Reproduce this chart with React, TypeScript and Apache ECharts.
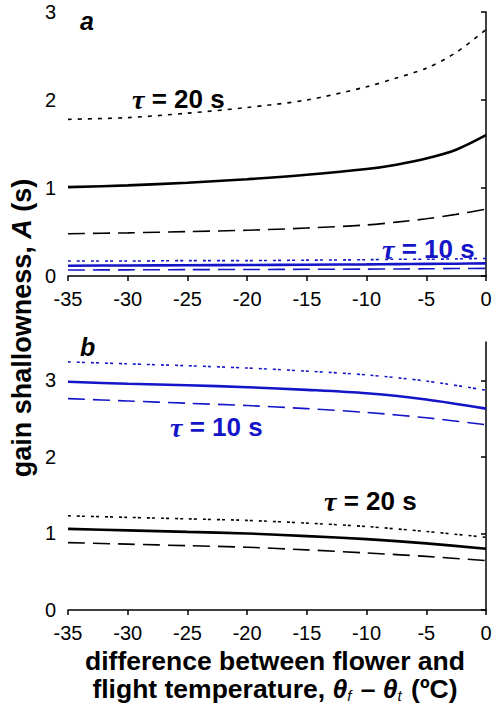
import React, { useEffect, useRef } from "react";
import * as echarts from "echarts";

// ---- Data ----
const xTicks = [-35, -30, -25, -20, -15, -10, -5, 0];
const yTicksA = [0, 1, 2, 3];
const yTicksB = [0, 1, 2, 3];

// Panel a
const xA = [-35, -30, -25, -20, -15, -10, -7.5, -5, -2.5, 0];
const aTau20Dotted = [1.78, 1.8, 1.85, 1.915, 2.0, 2.15, 2.25, 2.36, 2.54, 2.8];
const aTau20Solid = [1.01, 1.03, 1.06, 1.1, 1.15, 1.215, 1.265, 1.335, 1.435, 1.6];
const aTau20Dashed = [0.48, 0.49, 0.505, 0.52, 0.545, 0.58, 0.612, 0.65, 0.7, 0.76];
const aTau10Dotted = [0.17, 0.17, 0.175, 0.175, 0.18, 0.185, 0.19, 0.19, 0.195, 0.2];
const aTau10Solid = [0.117, 0.12, 0.122, 0.125, 0.128, 0.132, 0.135, 0.138, 0.14, 0.144];
const aTau10Dashed = [0.068, 0.07, 0.072, 0.074, 0.076, 0.078, 0.08, 0.082, 0.085, 0.087];

// Panel b
const xB = [-35, -30, -25, -20, -15, -10, -5, 0];
const bTau10Dotted = [3.24, 3.215, 3.19, 3.16, 3.12, 3.07, 2.99, 2.87];
const bTau10Solid = [2.98, 2.955, 2.935, 2.91, 2.875, 2.83, 2.75, 2.63];
const bTau10Dashed = [2.76, 2.73, 2.7, 2.67, 2.63, 2.58, 2.51, 2.42];
const bTau20Dotted = [1.23, 1.21, 1.19, 1.17, 1.135, 1.09, 1.025, 0.95];
const bTau20Solid = [1.06, 1.04, 1.02, 1.0, 0.965, 0.925, 0.87, 0.8];
const bTau20Dashed = [0.88, 0.86, 0.84, 0.82, 0.785, 0.745, 0.7, 0.645];

const BLACK = "#000000";
const BLUE = "#1414c8";
const SANS = "Liberation Sans, Arial, sans-serif";
const SERIF = "Liberation Serif, Times New Roman, serif";

const DOTS = [4, 6];
const DASHDOTS = [3, 6, 3, 2];
const DASHES = [17, 8];

function mk(xs: number[], ys: number[], idx: number, color: string, width: number, type: any) {
  return {
    type: "line",
    xAxisIndex: idx,
    yAxisIndex: idx,
    data: xs.map((x, i) => [x, ys[i]]),
    smooth: 0.3,
    symbol: "none",
    showSymbol: false,
    silent: true,
    lineStyle: { color, width, type },
  };
}

export default function App() {
  const ref = useRef<HTMLDivElement>(null);
  useEffect(() => {
    if (!ref.current) return;
    const chart = echarts.init(ref.current, null, { renderer: "svg" });

    const xAxisBase = (gridIndex: number) => ({
      type: "value",
      gridIndex,
      min: -35,
      max: 0,
      interval: 5,
      axisLine: { show: true, lineStyle: { color: BLACK, width: 1.5 } },
      axisTick: { show: true, inside: false, length: 5, lineStyle: { color: BLACK, width: 1.5 }, customValues: xTicks },
      axisLabel: { color: BLACK, fontSize: 20, fontFamily: SANS, margin: 13, customValues: xTicks },
      splitLine: { show: false },
    });

    const yAxisBase = (gridIndex: number, max: number, ticks: number[]) => ({
      type: "value",
      gridIndex,
      min: 0,
      max,
      interval: 1,
      axisLine: { show: true, lineStyle: { color: BLACK, width: 1.5 } },
      axisTick: { show: true, inside: false, length: 5, lineStyle: { color: BLACK, width: 1.5 }, customValues: ticks },
      axisLabel: { color: BLACK, fontSize: 20, fontFamily: SANS, margin: 12, customValues: ticks },
      splitLine: { show: false },
    });

    const tau = (label: string, color: string) => ({
      text: `{t|τ}{n| = ${label}}`,
      rich: {
        t: { fontFamily: SERIF, fontStyle: "italic", fontWeight: "bold", fontSize: 28, fill: color },
        n: { fontFamily: SANS, fontWeight: "bold", fontSize: 26, fill: color },
      },
      fill: color,
      align: "left",
      verticalAlign: "middle",
    });

    chart.setOption({
      animation: false,
      backgroundColor: "#ffffff",
      grid: [
        { left: 68, top: 12, width: 418, height: 264 },
        { left: 68, top: 342, width: 418, height: 268 },
      ],
      xAxis: [xAxisBase(0), xAxisBase(1)],
      yAxis: [yAxisBase(0, 3, yTicksA), yAxisBase(1, 3.5, yTicksB)],
      series: [
        mk(xA, aTau20Dotted, 0, BLACK, 1.6, DOTS),
        mk(xA, aTau20Solid, 0, BLACK, 2.6, "solid"),
        mk(xA, aTau20Dashed, 0, BLACK, 1.6, DASHES),
        mk(xA, aTau10Dotted, 0, BLUE, 1.6, DASHDOTS),
        mk(xA, aTau10Solid, 0, BLUE, 2.6, "solid"),
        mk(xA, aTau10Dashed, 0, BLUE, 1.6, DASHES),
        mk(xB, bTau10Dotted, 1, BLUE, 1.6, DASHDOTS),
        mk(xB, bTau10Solid, 1, BLUE, 2.6, "solid"),
        mk(xB, bTau10Dashed, 1, BLUE, 1.6, DASHES),
        mk(xB, bTau20Dotted, 1, BLACK, 1.6, DASHDOTS),
        mk(xB, bTau20Solid, 1, BLACK, 2.6, "solid"),
        mk(xB, bTau20Dashed, 1, BLACK, 1.6, DASHES),
      ],
      graphic: [
        {
          type: "text",
          x: 80,
          y: 21,
          style: { text: "a", font: `italic bold 25px ${SANS}`, fill: BLACK, verticalAlign: "middle" },
        },
        {
          type: "text",
          x: 80,
          y: 347,
          style: { text: "b", font: `italic bold 25px ${SANS}`, fill: BLACK, verticalAlign: "middle" },
        },
        { type: "text", x: 132, y: 99, style: tau("20 s", BLACK) },
        { type: "text", x: 382, y: 249, style: tau("10 s", BLUE) },
        { type: "text", x: 170, y: 427, style: tau("10 s", BLUE) },
        { type: "text", x: 324, y: 501, style: tau("20 s", BLACK) },
        {
          type: "text",
          x: 22,
          y: 328,
          rotation: Math.PI / 2,
          style: {
            text: "{b|gain shallowness, }{i|A}{b| (s)}",
            rich: {
              b: { fontFamily: SANS, fontWeight: "bold", fontSize: 27, fill: BLACK },
              i: { fontFamily: SANS, fontWeight: "bold", fontStyle: "italic", fontSize: 27, fill: BLACK },
            },
            align: "center",
            verticalAlign: "middle",
          },
        },
        {
          type: "text",
          x: 275,
          y: 675,
          style: {
            text:
              "{b|difference between flower and}\n{b|flight temperature, }{i|θ}{s|f}{b| – }{i|θ}{s|t}{b| (ºC)}",
            rich: {
              b: { fontFamily: SANS, fontWeight: "bold", fontSize: 26.5, lineHeight: 28, fill: BLACK },
              i: { fontFamily: SANS, fontWeight: "bold", fontStyle: "italic", fontSize: 26.5, lineHeight: 28, fill: BLACK },
              s: { fontFamily: SANS, fontStyle: "italic", fontSize: 15, lineHeight: 28, fill: BLACK, verticalAlign: "bottom", padding: [8, 2, 0, 0] },
            },
            align: "center",
            verticalAlign: "middle",
          },
        },
      ],
    });
    return () => chart.dispose();
  }, []);
  return (
    <div
      ref={ref}
      style={{ position: "fixed", left: 0, top: 0, width: 498, height: 704, background: "#fff" }}
    />
  );
}
